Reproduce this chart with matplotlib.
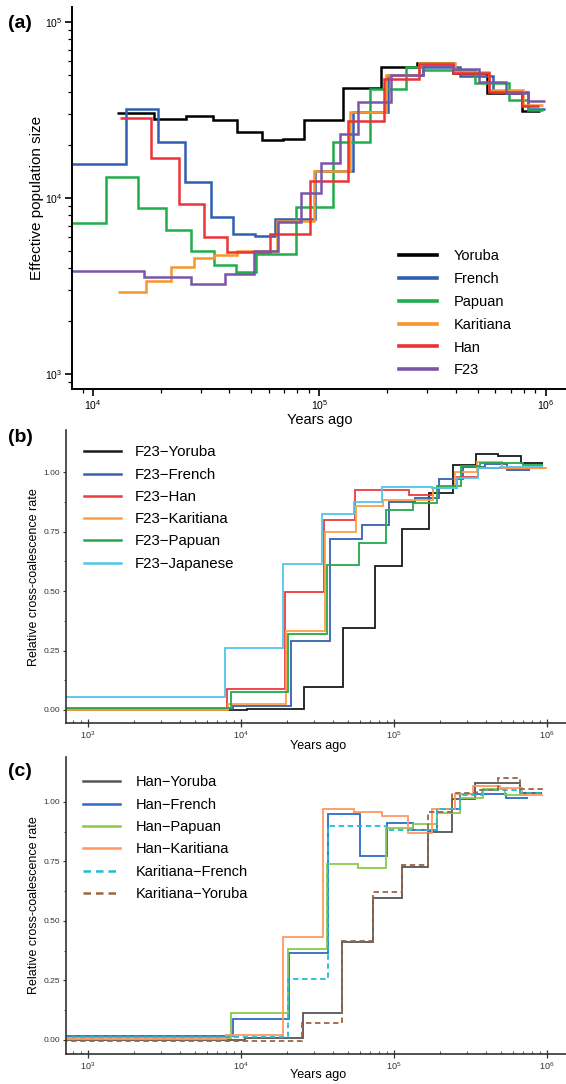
import matplotlib
matplotlib.use("Agg")
import matplotlib.pyplot as plt
from matplotlib.lines import Line2D
from matplotlib.ticker import LogLocator, NullFormatter, FixedLocator

plt.rcParams['font.family'] = ['Liberation Sans', 'DejaVu Sans']

# ---- panel (a): effective population size, step edges (years) and Ne ----
yoruba_t = [1.27e4, 1.86e4, 2.57e4, 3.38e4, 4.31e4, 5.56e4, 6.88e4, 8.57e4, 1.27e5, 1.87e5, 2.71e5, 3.89e5, 5.49e5, 7.84e5, 9.42e5]
yoruba_ne = [3.06e4, 2.81e4, 2.94e4, 2.79e4, 2.39e4, 2.14e4, 2.16e4, 2.79e4, 4.25e4, 5.55e4, 5.89e4, 5.12e4, 3.94e4, 3.13e4]
french_t = [5e3, 1.40e4, 1.94e4, 2.56e4, 3.31e4, 4.16e4, 5.19e4, 6.36e4, 9.55e4, 1.41e5, 2.01e5, 2.87e5, 4.17e5, 5.86e5, 8.36e5, 9.91e5]
french_ne = [1.57e4, 3.20e4, 2.10e4, 1.23e4, 7.86e3, 6.27e3, 6.11e3, 7.60e3, 1.43e4, 3.10e4, 5.02e4, 5.59e4, 4.95e4, 4.03e4, 3.20e4]
papuan_t = [5e3, 1.14e4, 1.58e4, 2.10e4, 2.70e4, 3.42e4, 4.28e4, 5.24e4, 7.91e4, 1.15e5, 1.68e5, 2.41e5, 2.87e5, 4.86e5, 6.89e5, 8.36e5, 9.74e5]
papuan_ne = [7.21e3, 1.32e4, 8.84e3, 6.58e3, 5.04e3, 4.18e3, 3.83e3, 4.81e3, 8.96e3, 2.08e4, 4.16e4, 5.59e4, 5.39e4, 4.50e4, 3.62e4, 3.18e4]
karitiana_t = [1.29e4, 1.71e4, 2.21e4, 2.79e4, 3.42e4, 4.31e4, 6.47e4, 9.46e4, 1.36e5, 1.97e5, 2.76e5, 3.97e5, 5.62e5, 7.95e5, 9.71e5]
karitiana_ne = [2.92e3, 3.39e3, 4.09e3, 4.56e3, 4.76e3, 5.04e3, 7.43e3, 1.43e4, 3.10e4, 5.02e4, 5.89e4, 5.24e4, 4.12e4, 3.39e4]
han_t = [1.31e4, 1.80e4, 2.40e4, 3.09e4, 3.89e4, 6.04e4, 9.08e4, 1.34e5, 1.93e5, 2.76e5, 3.90e5, 5.62e5, 7.90e5, 9.35e5]
han_ne = [2.85e4, 1.70e4, 9.28e3, 6.05e3, 4.97e3, 6.27e3, 1.26e4, 2.76e4, 4.74e4, 5.79e4, 5.17e4, 4.03e4, 3.35e4]
f23_t = [5e3, 1.68e4, 2.71e4, 3.82e4, 5.15e4, 6.58e4, 8.26e4, 1.02e5, 1.23e5, 1.48e5, 2.08e5, 2.87e5, 3.89e5, 5.06e5, 6.71e5, 8.36e5, 9.91e5]
f23_ne = [3.86e3, 3.56e3, 3.25e3, 3.70e3, 5.04e3, 7.33e3, 1.07e4, 1.59e4, 2.31e4, 3.54e4, 5.02e4, 5.65e4, 5.41e4, 4.60e4, 3.98e4, 3.57e4]

# ---- panel (b): relative cross-coalescence, F23 vs others ----
b_yor_t = [300, 1.09e4, 2.59e4, 4.66e4, 7.51e4, 1.13e5, 1.69e5, 2.42e5, 3.44e5, 4.81e5, 6.73e5, 9.37e5]
b_yor_r = [0.0, 0.004, 0.095, 0.344, 0.604, 0.76, 0.912, 1.031, 1.077, 1.07, 1.038]
b_fre_t = [300, 8.91e3, 2.11e4, 3.82e4, 6.15e4, 9.32e4, 1.37e5, 1.98e5, 2.81e5, 3.93e5, 5.50e5, 7.74e5]
b_fre_r = [0.003, 0.017, 0.29, 0.719, 0.778, 0.876, 0.891, 0.97, 1.024, 1.035, 1.01]
b_han_t = [300, 8.14e3, 1.94e4, 3.49e4, 5.56e4, 1.25e5, 1.81e5, 2.58e5, 3.54e5, 9.70e5]
b_han_r = [0.005, 0.088, 0.495, 0.8, 0.926, 0.905, 0.935, 0.98, 1.02]
b_kar_t = [300, 8.26e3, 1.97e4, 3.54e4, 5.64e4, 8.51e4, 1.81e5, 2.50e5, 3.47e5, 5.06e5, 9.95e5]
b_kar_r = [0.0, 0.025, 0.334, 0.75, 0.858, 0.883, 0.933, 1.0, 1.045, 1.02]
b_pap_t = [300, 8.56e3, 2.04e4, 3.66e4, 5.93e4, 8.83e4, 1.33e5, 1.90e5, 2.73e5, 3.65e5, 7.00e5, 9.42e5]
b_pap_r = [0.01, 0.075, 0.32, 0.61, 0.701, 0.841, 0.87, 0.942, 1.027, 1.038, 1.03]
b_jap_t = [300, 7.86e3, 1.87e4, 3.37e4, 5.48e4, 8.31e4, 1.76e5, 2.58e5, 3.54e5, 4.93e5, 9.42e5]
b_jap_r = [0.056, 0.26, 0.613, 0.825, 0.876, 0.939, 0.935, 0.975, 1.017, 1.024]

# ---- panel (c): relative cross-coalescence, Han / Karitiana pairs ----
c_yor_t = [300, 1.06e4, 2.55e4, 4.59e4, 7.32e4, 1.12e5, 1.66e5, 2.38e5, 3.38e5, 6.66e5, 9.23e5]
c_yor_r = [0.0, 0.01, 0.115, 0.413, 0.595, 0.725, 0.875, 1.011, 1.081, 1.039]
c_fre_t = [300, 8.83e3, 2.07e4, 3.69e4, 6.00e4, 9.04e4, 1.34e5, 1.92e5, 2.70e5, 3.80e5, 5.40e5, 7.55e5]
c_fre_r = [0.017, 0.087, 0.367, 0.95, 0.773, 0.913, 0.882, 0.969, 1.032, 1.034, 1.016]
c_pap_t = [300, 8.56e3, 2.04e4, 3.63e4, 5.84e4, 8.87e4, 1.34e5, 1.92e5, 2.70e5, 3.80e5, 5.34e5, 7.37e5]
c_pap_r = [0.01, 0.112, 0.382, 0.739, 0.721, 0.889, 0.908, 0.952, 1.016, 1.053, 1.029]
c_kar_t = [300, 7.98e3, 1.89e4, 3.42e4, 5.48e4, 8.31e4, 1.24e5, 1.76e5, 2.50e5, 3.30e5, 4.93e5, 6.83e5, 9.46e5]
c_kar_r = [0.003, 0.021, 0.432, 0.97, 0.958, 0.94, 0.87, 0.97, 1.034, 1.067, 1.057, 1.029]
c_kf_t = [300, 2.04e4, 3.69e4, 9.00e4, 1.90e5, 2.70e5, 3.76e5, 6.66e5, 9.14e5]
c_kf_r = [0.012, 0.255, 0.899, 0.88, 0.969, 1.03, 1.05, 1.036]
c_ky_t = [300, 2.49e4, 4.55e4, 7.32e4, 1.12e5, 1.66e5, 2.38e5, 3.47e5, 4.81e5, 6.66e5, 9.37e5]
c_ky_r = [-0.004, 0.07, 0.417, 0.62, 0.735, 0.959, 1.036, 1.05, 1.10, 1.054]

W, H = 566, 1084
fig = plt.figure(figsize=(W / 100, H / 100), dpi=100)

def box(left, top, right, bottom):
    return [left / W, 1 - bottom / H, (right - left) / W, (bottom - top) / H]

# ---------------- (a) ----------------
ax = fig.add_axes(box(71.5, 6.7, 566, 389))
series_a = [("Yoruba", yoruba_t, yoruba_ne, "#000000"),
            ("French", french_t, french_ne, "#2f5fb3"),
            ("Papuan", papuan_t, papuan_ne, "#1fae4b"),
            ("Karitiana", karitiana_t, karitiana_ne, "#f7962a"),
            ("Han", han_t, han_ne, "#ec3237"),
            ("F23", f23_t, f23_ne, "#7b55a6")]
handles = []
for name, t, ne, col in series_a:
    ax.stairs(ne, t, baseline=None, color=col, lw=1.8)
    handles.append(Line2D([], [], color=col, lw=2.6, label=name))
ax.set_xscale("log")
ax.set_yscale("log")
ax.set_xlim(8.03e3, 1.23e6)
ax.set_ylim(825, 1.226e5)
for s in ["top", "right"]:
    ax.spines[s].set_visible(False)
for s in ["left", "bottom"]:
    ax.spines[s].set_linewidth(1.4)
ax.tick_params(which="major", direction="out", length=5, width=1.2, labelsize=7.5, pad=1.5)
ax.tick_params(which="minor", direction="out", length=3, width=0.9)
ax.yaxis.set_minor_formatter(NullFormatter())
ax.xaxis.set_minor_formatter(NullFormatter())
ax.set_xlabel("Years ago", fontsize=10.5)
ax.set_ylabel("Effective population size", fontsize=11)
ax.xaxis.set_label_coords(0.5015, -0.064)
ax.yaxis.set_label_coords(-0.056, 0.5)
fig.legend(handles=handles, loc="upper left", bbox_to_anchor=(399 / W, 1 - 249.5 / H),
           frameon=False, fontsize=10.5, handlelength=2.6, handletextpad=1.15,
           labelspacing=0.6, borderpad=0, borderaxespad=0)
fig.text(8 / W, 1 - 23 / H, "(a)", fontsize=14, fontweight="bold", va="center", ha="left")

# ---------------- (b), (c) ----------------
def ccr_axes(top, bottom, ylim):
    a = fig.add_axes(box(65.7, top, 566, bottom))
    a.set_xscale("log")
    a.set_xlim(715, 1.33e6)
    a.set_ylim(*ylim)
    for s in ["top", "right"]:
        a.spines[s].set_visible(False)
    for s in ["left", "bottom"]:
        a.spines[s].set_linewidth(1.2)
        a.spines[s].set_color("#333333")
    a.yaxis.set_major_locator(FixedLocator([0, 0.25, 0.5, 0.75, 1.0]))
    a.yaxis.set_major_formatter(plt.FuncFormatter(lambda v, p: f"{v:.2f}"))
    a.yaxis.set_minor_locator(FixedLocator([0.125, 0.375, 0.625, 0.875]))
    a.xaxis.set_minor_locator(LogLocator(base=10, subs=range(2, 10), numticks=20))
    a.xaxis.set_minor_formatter(NullFormatter())
    a.tick_params(axis="y", which="major", direction="out", length=2.5, width=0.8,
                  labelsize=6, colors="#333333", pad=1.5)
    a.tick_params(axis="y", which="minor", direction="out", length=1.5, width=0.6, colors="#333333")
    a.tick_params(axis="x", which="major", direction="inout", length=6, width=0.9,
                  labelsize=6.5, colors="#333333", pad=1.5)
    a.tick_params(axis="x", which="minor", direction="in", length=2.5, width=0.6, colors="#333333")
    a.set_xlabel("Years ago", fontsize=9)
    a.set_ylabel("Relative cross-coalescence rate", fontsize=9)
    a.yaxis.set_label_coords(-0.051, 0.5)
    return a

axb = ccr_axes(430, 723.3, (-0.056, 1.178))
axb.xaxis.set_label_coords(0.504, -0.058)
series_b = [("F23\u2212Yoruba", b_yor_t, b_yor_r, "#1a1a1a"),
            ("F23\u2212French", b_fre_t, b_fre_r, "#3760b0"),
            ("F23\u2212Han", b_han_t, b_han_r, "#ee3b3f"),
            ("F23\u2212Karitiana", b_kar_t, b_kar_r, "#ff9e40"),
            ("F23\u2212Papuan", b_pap_t, b_pap_r, "#23a94a"),
            ("F23\u2212Japanese", b_jap_t, b_jap_r, "#4fc6ec")]
hb = []
for name, t, r, col in series_b:
    axb.stairs(r, t, baseline=None, color=col, lw=1.3)
    hb.append(Line2D([], [], color=col, lw=1.8, label=name))
fig.legend(handles=hb, loc="upper left", bbox_to_anchor=(83.8 / W, 1 - 445.5 / H),
           frameon=False, fontsize=10.8, handlelength=2.45, handletextpad=0.95,
           labelspacing=0.55, borderpad=0, borderaxespad=0)
fig.text(8 / W, 1 - 438 / H, "(b)", fontsize=14, fontweight="bold", va="center", ha="left")

axc = ccr_axes(756.7, 1054, (-0.059, 1.19))
axc.xaxis.set_label_coords(0.504, -0.052)
series_c = [("Han\u2212Yoruba", c_yor_t, c_yor_r, "#555555", "-"),
            ("Han\u2212French", c_fre_t, c_fre_r, "#2e6cc4", "-"),
            ("Han\u2212Papuan", c_pap_t, c_pap_r, "#8cc84b", "-"),
            ("Han\u2212Karitiana", c_kar_t, c_kar_r, "#ff9960", "-"),
            ("Karitiana\u2212French", c_kf_t, c_kf_r, "#1fbcd3", (0, (3, 2))),
            ("Karitiana\u2212Yoruba", c_ky_t, c_ky_r, "#9c6644", (0, (3, 2)))]
hc = []
for name, t, r, col, ls in series_c:
    axc.stairs(r, t, baseline=None, color=col, lw=1.3, linestyle=ls)
    hc.append(Line2D([], [], color=col, lw=1.8, linestyle=ls, label=name))
fig.legend(handles=hc, loc="upper left", bbox_to_anchor=(83 / W, 1 - 775.5 / H),
           frameon=False, fontsize=10.5, handlelength=2.55, handletextpad=1.1,
           labelspacing=0.57, borderpad=0, borderaxespad=0)
fig.text(8 / W, 1 - 771 / H, "(c)", fontsize=14, fontweight="bold", va="center", ha="left")

fig.savefig("out.png", dpi=100)
